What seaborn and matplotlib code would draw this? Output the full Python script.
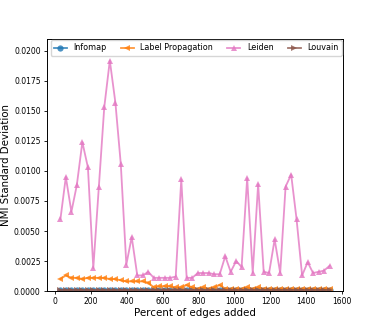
import pandas as pd
import matplotlib
matplotlib.use("Agg")
import matplotlib.pyplot as plt
import seaborn as sns

# percent of edges added (x positions of the samples)
percent = [31, 61, 92, 122, 153, 184, 214, 245, 275, 306,
           337, 367, 398, 428, 459, 490, 520, 551, 581, 612,
           643, 673, 704, 734, 765, 796, 826, 857, 887, 918,
           949, 979, 1010, 1040, 1071, 1102, 1132, 1163, 1193, 1224,
           1255, 1285, 1316, 1346, 1377, 1408, 1438, 1469, 1499, 1530]

infomap = [0.0001] * 50
louvain = [0.0001] * 50

label_prop = [0.0010, 0.0013, 0.0011, 0.0011, 0.0010, 0.0011, 0.0011, 0.0011, 0.0011, 0.0010,
              0.0010, 0.0009, 0.0008, 0.0008, 0.0008, 0.0008, 0.0007, 0.0003, 0.0004, 0.0004,
              0.0004, 0.0003, 0.0003, 0.0005, 0.0003, 0.0002, 0.0003, 0.0002, 0.0003, 0.0005,
              0.0002, 0.0002, 0.0002, 0.0002, 0.0003, 0.0002, 0.0003, 0.0002, 0.0002, 0.0002,
              0.0002, 0.0002, 0.0002, 0.0002, 0.0002, 0.0002, 0.0002, 0.0002, 0.0002, 0.0002]

leiden = [0.0060, 0.0095, 0.0066, 0.0088, 0.0124, 0.0103, 0.0019, 0.0087, 0.0153, 0.0192,
          0.0157, 0.0106, 0.0022, 0.0045, 0.0013, 0.0013, 0.0016, 0.0011, 0.0011, 0.0011,
          0.0011, 0.0012, 0.0093, 0.0011, 0.0011, 0.0015, 0.0015, 0.0015, 0.0014, 0.0014,
          0.0029, 0.0016, 0.0025, 0.0020, 0.0094, 0.0015, 0.0089, 0.0016, 0.0015, 0.0043,
          0.0015, 0.0087, 0.0097, 0.0060, 0.0013, 0.0024, 0.0015, 0.0016, 0.0017, 0.0021]

methods = ["Infomap", "Label Propagation", "Leiden", "Louvain"]
series = [infomap, label_prop, leiden, louvain]

rows = []
for m, vals in zip(methods, series):
    for p, v in zip(percent, vals):
        rows.append({"percent": p, "std": v, "method": m})
df = pd.DataFrame(rows)

palette = {"Infomap": "#1f77b4", "Label Propagation": "#ff7f0e",
           "Leiden": "#e377c2", "Louvain": "#8c564b"}
markers = {"Infomap": "o", "Label Propagation": "<",
           "Leiden": "^", "Louvain": ">"}

fig = plt.figure(figsize=(3.82, 3.27), dpi=100)
ax = fig.add_axes([0.123, 0.110, 0.775, 0.771])

sns.lineplot(data=df, x="percent", y="std", hue="method", style="method",
             hue_order=methods, style_order=methods,
             palette=palette, markers=markers, dashes=False,
             linewidth=1.3, markersize=4.5, markeredgewidth=0,
             alpha=0.8, ax=ax)

ax.set_ylim(0, 0.021)
ax.set_xticks([0, 200, 400, 600, 800, 1000, 1200, 1400, 1600])
ax.set_yticks([0.0, 0.0025, 0.005, 0.0075, 0.01, 0.0125, 0.015, 0.0175, 0.02])
ax.yaxis.set_major_formatter(matplotlib.ticker.FormatStrFormatter("%.4f"))
ax.tick_params(labelsize=5.5, length=2.5, width=0.6, pad=2)
for s in ax.spines.values():
    s.set_linewidth(0.7)

ax.set_xlabel("Percent of edges added", fontsize=7.4, labelpad=1)
ax.set_ylabel("NMI Standard Deviation", fontsize=7.4, labelpad=2)

ax.legend(ncol=4, loc="upper left", bbox_to_anchor=(0.0125, 0.0, 0.983, 0.995),
          mode="expand", fontsize=5.8, frameon=True,
          handlelength=1.6, handletextpad=0.8, columnspacing=1.2,
          borderpad=0.4, borderaxespad=0.0)

fig.savefig("out.png", dpi=100)
